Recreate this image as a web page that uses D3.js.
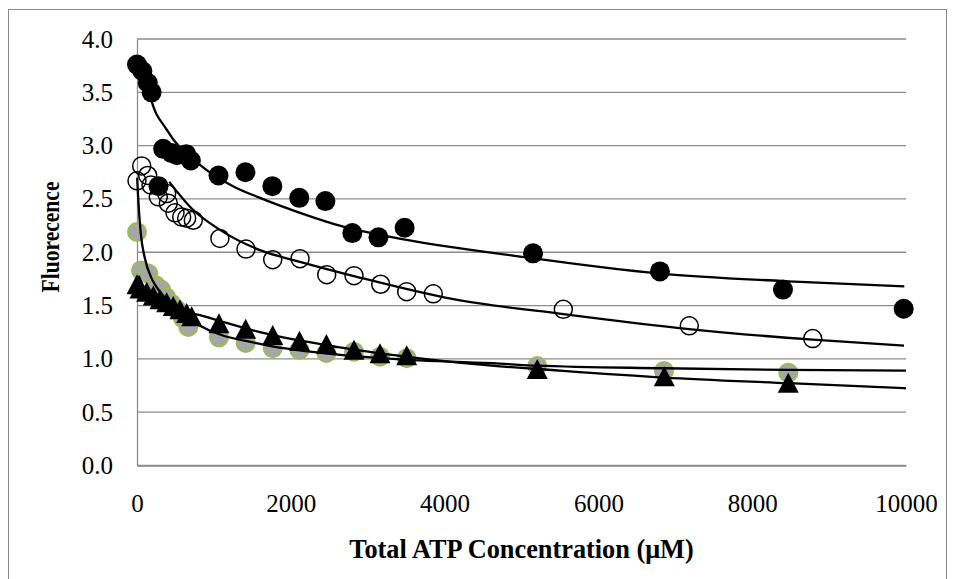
<!DOCTYPE html>
<html>
<head>
<meta charset="utf-8">
<script src="https://cdn.jsdelivr.net/npm/d3@7"></script>
<style>
  body { margin: 0; background: #fff; }
  svg { display: block; }
  text { font-family: "Liberation Serif", "Times New Roman", serif; fill: #000; }
</style>
</head>
<body>
<svg id="chart" width="956" height="579"></svg>
<script>
const width = 956;
const height = 579;

// axis ticks
const xTicks = [0, 2000, 4000, 6000, 8000, 10000];
const yTicks = [0, 0.5, 1.0, 1.5, 2.0, 2.5, 3.0, 3.5, 4.0];

// filled circles
const s1x = [0, 70, 140, 190, 280, 340, 450, 520, 640, 700, 1060, 1410, 1760, 2110, 2450, 2800, 3140, 3480, 5150, 6800, 8400, 9970];
const s1y = [3.76, 3.70, 3.59, 3.50, 2.62, 2.97, 2.93, 2.91, 2.92, 2.86, 2.72, 2.75, 2.62, 2.51, 2.48, 2.18, 2.14, 2.23, 1.99, 1.82, 1.65, 1.47];

// open circles
const s2x = [0, 61, 139, 182, 277, 386, 407, 494, 581, 646, 732, 1078, 1417, 1765, 2120, 2467, 2822, 3169, 3507, 3853, 5544, 7182, 8787];
const s2y = [2.67, 2.81, 2.72, 2.63, 2.52, 2.55, 2.46, 2.37, 2.33, 2.32, 2.30, 2.13, 2.03, 1.93, 1.94, 1.79, 1.78, 1.70, 1.63, 1.61, 1.465, 1.31, 1.19];

// grey circles
const s3x = [0, 52, 147, 243, 312, 377, 442, 520, 598, 667, 1066, 1413, 1765, 2113, 2463, 2822, 3160, 3507, 5205, 6853, 8469];
const s3y = [2.19, 1.83, 1.80, 1.69, 1.65, 1.58, 1.52, 1.46, 1.38, 1.30, 1.20, 1.15, 1.10, 1.083, 1.055, 1.067, 1.02, 1.006, 0.933, 0.886, 0.871];

// triangles
const s4x = [0, 39, 126, 212, 299, 386, 472, 559, 646, 711, 1066, 1413, 1765, 2113, 2463, 2822, 3160, 3507, 5205, 6857, 8469];
const s4y = [1.70, 1.66, 1.63, 1.595, 1.56, 1.53, 1.495, 1.465, 1.43, 1.40, 1.334, 1.283, 1.224, 1.171, 1.14, 1.086, 1.052, 1.034, 0.905, 0.837, 0.777];

// trendlines
const t1x = [130, 178, 386, 819, 1248, 1599, 2120, 2683, 3329, 4980, 6801, 8397, 9978];
const t1y = [3.60, 3.45, 3.15, 2.82, 2.62, 2.51, 2.37, 2.24, 2.14, 1.96, 1.80, 1.73, 1.68];
const t2x = [420, 711, 1079, 1599, 2120, 2857, 4113, 5544, 7178, 8787, 9974];
const t2y = [2.66, 2.41, 2.21, 2.02, 1.91, 1.77, 1.56, 1.42, 1.28, 1.18, 1.125];
const t3x = [2, 17, 50, 100, 200, 300, 500, 819, 1600, 2614, 3680, 4720, 5205, 6850, 8470, 10000];
const t3y = [2.70, 2.49, 2.17, 1.95, 1.74, 1.63, 1.47, 1.31, 1.14, 1.04, 0.985, 0.955, 0.936, 0.912, 0.896, 0.889];
const t4x = [20, 100, 300, 600, 819, 1100, 1599, 2614, 3680, 4720, 5205, 6850, 8470, 10000];
const t4y = [1.78, 1.66, 1.55, 1.45, 1.41, 1.35, 1.25, 1.11, 1.005, 0.93, 0.905, 0.825, 0.772, 0.724];

const margin = { left: 137, right: 50, top: 39, bottom: 113.5 };

const svg = d3.select("#chart");

const x = d3.scaleLinear().domain([0, 10000]).range([margin.left, width - margin.right]);
const y = d3.scaleLinear().domain([0, 4]).range([height - margin.bottom, margin.top]);

// outer chart border
svg.append("rect")
  .attr("x", 8.5).attr("y", 9.5)
  .attr("width", 938).attr("height", 600)
  .attr("fill", "none")
  .attr("stroke", "#888")
  .attr("stroke-width", 1);

// gridlines
svg.append("g")
  .selectAll("line")
  .data(yTicks)
  .join("line")
  .attr("x1", x(0)).attr("x2", x(10000))
  .attr("y1", d => y(d)).attr("y2", d => y(d))
  .attr("stroke", "#8c8c8c")
  .attr("stroke-width", 1.3);

// y axis
const yAxis = svg.append("g")
  .attr("transform", `translate(${x(0)},0)`)
  .call(d3.axisLeft(y).tickValues(yTicks).tickFormat(d3.format(".1f")).tickSize(0).tickPadding(24));
yAxis.select(".domain").attr("stroke", "#8c8c8c").attr("stroke-width", 1.3);
yAxis.selectAll("text").style("font-size", "25px").attr("font-family", null);

// x axis
const xAxis = svg.append("g")
  .attr("transform", `translate(0,${y(0)})`)
  .call(d3.axisBottom(x).tickValues(xTicks).tickFormat(d3.format("d")).tickSize(0).tickPadding(29));
xAxis.select(".domain").attr("stroke", "#8c8c8c").attr("stroke-width", 1.3);
xAxis.selectAll("text").style("font-size", "25px").attr("font-family", null);

// axis titles (glyphs in the picture are a bit narrower than plain Times)
svg.append("text")
  .attr("transform", `translate(50,237) rotate(-90) scale(0.83,1)`)
  .attr("text-anchor", "middle")
  .attr("dy", "0.35em")
  .style("font-size", "26px")
  .style("font-weight", "bold")
  .text("Fluorecence");

svg.append("text")
  .attr("transform", `translate(${(x(0) + x(10000)) / 2},558) scale(0.94,1)`)
  .attr("text-anchor", "middle")
  .style("font-size", "28px")
  .style("font-weight", "bold")
  .text("Total ATP Concentration (\u03bcM)");

const zip = (xs, ys) => xs.map((v, i) => [v, ys[i]]);

// markers
svg.append("g").selectAll("circle")
  .data(zip(s1x, s1y))
  .join("circle")
  .attr("cx", d => x(d[0])).attr("cy", d => y(d[1]))
  .attr("r", 10)
  .attr("fill", "#000");

svg.append("g").selectAll("circle")
  .data(zip(s2x, s2y))
  .join("circle")
  .attr("cx", d => x(d[0])).attr("cy", d => y(d[1]))
  .attr("r", 9)
  .attr("fill", "none")
  .attr("stroke", "#000")
  .attr("stroke-width", 1.5);

svg.append("g").selectAll("circle")
  .data(zip(s3x, s3y))
  .join("circle")
  .attr("cx", d => x(d[0])).attr("cy", d => y(d[1]))
  .attr("r", 9)
  .attr("fill", "#a6a6a6")
  .attr("stroke", "#9bbb59")
  .attr("stroke-width", 2);

svg.append("g").selectAll("path")
  .data(zip(s4x, s4y))
  .join("path")
  .attr("transform", d => `translate(${x(d[0])},${y(d[1])})`)
  .attr("d", "M0,-10L10.5,10L-10.5,10Z")
  .attr("fill", "#000");

// trendlines on top
const line = d3.line()
  .x(d => x(d[0]))
  .y(d => y(d[1]))
  .curve(d3.curveMonotoneX);

[[t1x, t1y], [t2x, t2y], [t3x, t3y], [t4x, t4y]].forEach(([xs, ys]) => {
  svg.append("path")
    .datum(zip(xs, ys))
    .attr("d", line)
    .attr("fill", "none")
    .attr("stroke", "#000")
    .attr("stroke-width", 2.3);
});
</script>
</body>
</html>
